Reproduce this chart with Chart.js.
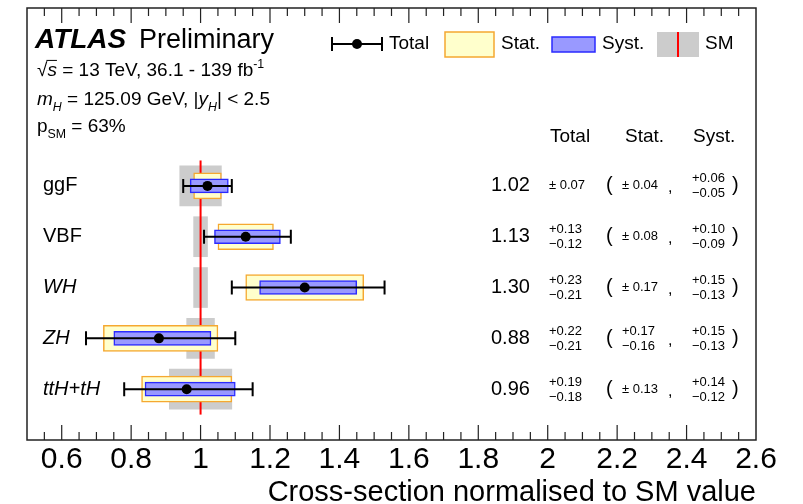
<!DOCTYPE html>
<html>
<head>
<meta charset="utf-8">
<script src="https://cdn.jsdelivr.net/npm/chart.js@4"></script>
<style>
html, body { margin: 0; padding: 0; background: #fff; }
</style>
</head>
<body>
<canvas id="chart" width="803" height="504"></canvas>
<script>
// Categories (top to bottom) and where they sit on the y scale
const categories = ['ggF', 'VBF', 'WH', 'ZH', 'ttH+tH'];
const italicLabel = [false, false, true, true, true];
const rowPos = [5, 4, 3, 2, 1];

// Measured cross-section / SM
const central = [1.02, 1.13, 1.30, 0.88, 0.96];
const totUp = [0.07, 0.13, 0.23, 0.22, 0.19];
const totDn = [0.07, 0.12, 0.21, 0.21, 0.18];
const statUp = [0.04, 0.08, 0.17, 0.17, 0.13];
const statDn = [0.04, 0.08, 0.17, 0.16, 0.13];
const systUp = [0.06, 0.10, 0.15, 0.15, 0.14];
const systDn = [0.05, 0.09, 0.13, 0.13, 0.12];

// SM theory uncertainty band (around 1)
const smUp = [0.06, 0.02, 0.02, 0.04, 0.09];
const smDn = [0.06, 0.02, 0.02, 0.04, 0.09];
const smSpan = [0.5, 5.5];

const xTicks = [0.6, 0.8, 1.0, 1.2, 1.4, 1.6, 1.8, 2.0, 2.2, 2.4, 2.6];

const FONT = "'Liberation Sans', Arial, Helvetica, sans-serif";
const YELLOW = '#ffffcc', ORANGE = '#f5a830';
const BLUE = '#9999ff', BLUE_EDGE = '#2a2aff';
const GREY = '#cccccc', RED = '#ff0000';

function font(size, style, weight) {
    return (style || 'normal') + ' ' + (weight || 'normal') + ' ' + size + 'px ' + FONT;
}

// texte avec indices / exposants
function drawRich(ctx, x, y, parts, size) {
    ctx.textBaseline = 'alphabetic';
    ctx.textAlign = 'left';
    parts.forEach(p => {
        const s = (p.sub || p.sup) ? size * 0.65 : size;
        const dy = p.sub ? size * 0.3 : (p.sup ? -size * 0.4 : 0);
        ctx.font = font(s, p.i ? 'italic' : 'normal', p.b ? 'bold' : 'normal');
        ctx.fillText(p.t, x, y + dy);
        const w = ctx.measureText(p.t).width;
        if (p.over) {
            ctx.lineWidth = 1;
            ctx.beginPath();
            ctx.moveTo(x - 1, y - size * 0.82);
            ctx.lineTo(x + w, y - size * 0.82);
            ctx.stroke();
        }
        x += w;
    });
    return x;
}

function drawErr(ctx, x, yc, up, dn) {
    ctx.font = font(13);
    ctx.textBaseline = 'middle';
    if (up === dn) {
        ctx.fillText('\u00b1 ' + up.toFixed(2), x, yc);
    } else {
        ctx.fillText('+' + up.toFixed(2), x, yc - 7);
        ctx.fillText('\u2212' + dn.toFixed(2), x, yc + 8);
    }
}

const atlasDecor = {
    id: 'atlasDecor',
    afterDatasetsDraw(chart) {
        const { ctx, scales: { x, y } } = chart;
        // barres d'erreur totales
        ctx.save();
        ctx.strokeStyle = '#000';
        ctx.lineWidth = 2;
        central.forEach((c, i) => {
            const py = y.getPixelForValue(rowPos[i]);
            const x0 = x.getPixelForValue(c - totDn[i]);
            const x1 = x.getPixelForValue(c + totUp[i]);
            ctx.beginPath();
            ctx.moveTo(x0, py); ctx.lineTo(x1, py);
            ctx.moveTo(x0, py - 7); ctx.lineTo(x0, py + 7);
            ctx.moveTo(x1, py - 7); ctx.lineTo(x1, py + 7);
            ctx.stroke();
        });
        ctx.fillStyle = '#000';
        central.forEach((c, i) => {
            ctx.beginPath();
            ctx.arc(x.getPixelForValue(c), y.getPixelForValue(rowPos[i]), 5, 0, Math.PI * 2);
            ctx.fill();
        });
        ctx.restore();
    },
    afterDraw(chart) {
        const { ctx, chartArea: a, scales: { x, y } } = chart;
        ctx.save();

        // cadre + graduations
        ctx.strokeStyle = '#222';
        ctx.lineWidth = 1.5;
        ctx.strokeRect(a.left, a.top, a.right - a.left, a.bottom - a.top);
        ctx.lineWidth = 1.2;
        ctx.beginPath();
        for (let k = 11; k < 52; k++) {
            const px = x.getPixelForValue(k / 20);
            const len = k % 4 === 0 ? 15 : 8;
            ctx.moveTo(px, a.bottom); ctx.lineTo(px, a.bottom - len);
            ctx.moveTo(px, a.top); ctx.lineTo(px, a.top + len);
        }
        ctx.stroke();

        // en-tete
        ctx.fillStyle = '#000';
        ctx.strokeStyle = '#000';
        drawRich(ctx, 35, 48, [{ t: 'ATLAS', i: true, b: true }], 28);
        drawRich(ctx, 139, 48, [{ t: 'Preliminary' }], 27);
        drawRich(ctx, 37, 76, [{ t: '\u221a' }, { t: 's', i: true, over: true },
            { t: ' = 13 TeV, 36.1 - 139 fb' }, { t: '-1', sup: true }], 19);
        drawRich(ctx, 37, 105, [{ t: 'm', i: true }, { t: 'H', i: true, sub: true },
            { t: ' = 125.09 GeV, |' }, { t: 'y', i: true }, { t: 'H', i: true, sub: true },
            { t: '| < 2.5' }], 19);
        drawRich(ctx, 37, 132, [{ t: 'p' }, { t: 'SM', sub: true }, { t: ' = 63%' }], 19);

        // legende
        const ly = 44;
        ctx.lineWidth = 2;
        ctx.beginPath();
        ctx.moveTo(332, ly); ctx.lineTo(382, ly);
        ctx.moveTo(332, ly - 7); ctx.lineTo(332, ly + 7);
        ctx.moveTo(382, ly - 7); ctx.lineTo(382, ly + 7);
        ctx.stroke();
        ctx.beginPath(); ctx.arc(357, ly, 5, 0, Math.PI * 2); ctx.fill();

        ctx.fillStyle = YELLOW; ctx.fillRect(445, 32, 49, 25);
        ctx.strokeStyle = ORANGE; ctx.lineWidth = 1.5; ctx.strokeRect(445, 32, 49, 25);
        ctx.fillStyle = BLUE; ctx.fillRect(552, 37, 43, 15);
        ctx.strokeStyle = BLUE_EDGE; ctx.strokeRect(552, 37, 43, 15);
        ctx.fillStyle = GREY; ctx.fillRect(657, 32, 42, 25);
        ctx.strokeStyle = RED; ctx.lineWidth = 2;
        ctx.beginPath(); ctx.moveTo(678, 32); ctx.lineTo(678, 57); ctx.stroke();

        ctx.fillStyle = '#000';
        ctx.font = font(19);
        ctx.textBaseline = 'middle';
        ctx.textAlign = 'left';
        ctx.fillText('Total', 389, ly);
        ctx.fillText('Stat.', 501, ly);
        ctx.fillText('Syst.', 602, ly);
        ctx.fillText('SM', 705, ly);

        // tableau des valeurs
        ctx.fillText('Total', 550, 137);
        ctx.fillText('Stat.', 625, 137);
        ctx.fillText('Syst.', 693, 137);
        central.forEach((c, i) => {
            const py = y.getPixelForValue(rowPos[i]);
            ctx.font = font(20);
            ctx.textBaseline = 'middle';
            ctx.fillText(c.toFixed(2), 491, py);
            ctx.fillText('(', 606, py);
            ctx.fillText(')', 732, py);
            ctx.font = font(16);
            ctx.fillText(',', 668, py + 2);
            drawErr(ctx, 549, py, totUp[i], totDn[i]);
            drawErr(ctx, 622, py, statUp[i], statDn[i]);
            drawErr(ctx, 692, py, systUp[i], systDn[i]);
        });
        ctx.restore();
    }
};

new Chart(document.getElementById('chart'), {
    type: 'scatter',
    data: {
        datasets: [{
            type: 'bar',
            label: 'SM',
            indexAxis: 'y',
            grouped: false,
            barThickness: 40,
            data: rowPos.map((r, i) => ({ y: r, x: [1 - smDn[i], 1 + smUp[i]] })),
            backgroundColor: GREY,
            borderWidth: 0,
            order: 5
        }, {
            type: 'line',
            label: 'SM line',
            data: smSpan.map(v => ({ x: 1, y: v })),
            borderColor: RED,
            borderWidth: 2,
            pointRadius: 0,
            order: 4
        }, {
            type: 'bar',
            label: 'Stat.',
            indexAxis: 'y',
            grouped: false,
            barThickness: 26,
            data: rowPos.map((r, i) => ({ y: r, x: [central[i] - statDn[i], central[i] + statUp[i]] })),
            backgroundColor: YELLOW,
            borderColor: ORANGE,
            borderWidth: 1.5,
            borderSkipped: false,
            order: 3
        }, {
            type: 'bar',
            label: 'Syst.',
            indexAxis: 'y',
            grouped: false,
            barThickness: 14,
            data: rowPos.map((r, i) => ({ y: r, x: [central[i] - systDn[i], central[i] + systUp[i]] })),
            backgroundColor: BLUE,
            borderColor: BLUE_EDGE,
            borderWidth: 1.5,
            borderSkipped: false,
            order: 2
        }]
    },
    options: {
        responsive: false,
        animation: false,
        events: [],
        layout: { padding: { left: 0, right: 47, top: 8, bottom: 0 } },
        plugins: {
            legend: { display: false },
            tooltip: { enabled: false }
        },
        scales: {
            x: {
                type: 'linear',
                min: 0.5,
                max: 2.6,
                offset: false,
                afterBuildTicks: s => { s.ticks = xTicks.map(v => ({ value: v })); },
                afterFit: s => { s.height = 64; s.paddingLeft = 0; s.paddingRight = 0; },
                grid: { display: false, drawTicks: false },
                border: { display: false },
                ticks: {
                    padding: 2,
                    color: '#000',
                    autoSkip: false,
                    maxRotation: 0,
                    font: { family: FONT, size: 30 },
                    callback: v => String(Math.round(v * 10) / 10)
                },
                title: {
                    display: true,
                    text: 'Cross-section normalised to SM value',
                    align: 'end',
                    color: '#000',
                    font: { family: FONT, size: 29, lineHeight: 1 },
                    padding: { top: 0, bottom: -3 }
                }
            },
            y: {
                type: 'linear',
                min: 0,
                max: 8.5,
                offset: false,
                afterBuildTicks: s => { s.ticks = rowPos.map(v => ({ value: v })); },
                afterFit: s => { s.width = 27; s.paddingTop = 0; s.paddingBottom = 0; },
                grid: { display: false, drawTicks: false },
                border: { display: false },
                ticks: {
                    mirror: true,
                    padding: 16,
                    color: '#000',
                    autoSkip: false,
                    font: ctx => ({
                        family: FONT,
                        size: 20,
                        style: ctx.tick && italicLabel[rowPos.indexOf(ctx.tick.value)] ? 'italic' : 'normal'
                    }),
                    callback: v => categories[rowPos.indexOf(v)]
                }
            }
        }
    },
    plugins: [atlasDecor]
});
</script>
</body>
</html>
